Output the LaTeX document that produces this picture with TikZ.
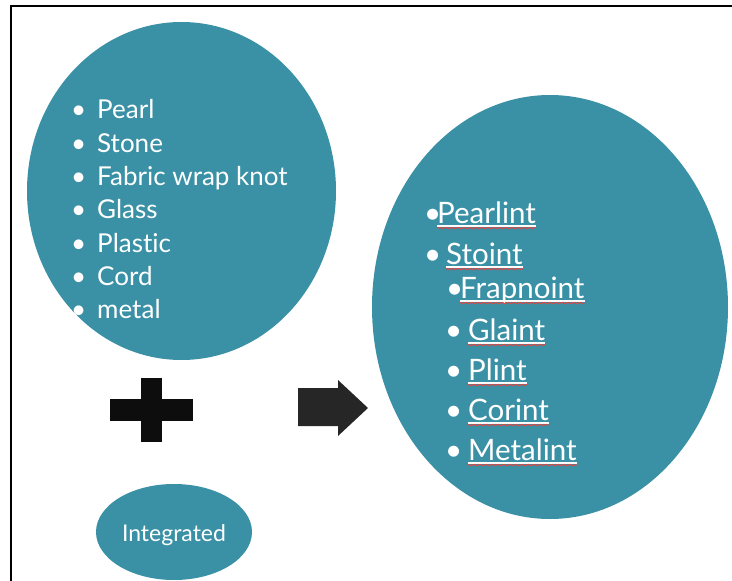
\documentclass[tikz,border=0pt]{standalone}
\usepackage{fontspec}
\setmainfont{Lato}[Ligatures={NoCommon,NoRare}]
\usetikzlibrary{decorations.pathmorphing}
\definecolor{teal1}{HTML}{3A91A6}
\definecolor{plusc}{HTML}{0D0D0D}
\definecolor{arrc}{HTML}{262626}
\definecolor{wavec}{HTML}{E8403A}
\tikzset{
  lefttxt/.style={anchor=base west, inner sep=0pt, text=white, font=\fontsize{26}{30}\selectfont},
  righttxt/.style={anchor=base west, inner sep=0pt, text=white, font=\fontsize{29.5}{33}\selectfont},
  uline/.style={draw=white, line width=1.1pt},
  wavy/.style={draw=wavec, line width=0.7pt, decorate, decoration={snake, amplitude=0.8pt, segment length=3pt}},
}
\newcommand{\ulw}[1]{%
  \draw[uline] ([yshift=-3pt]#1.base west) -- ([yshift=-3pt]#1.base east);
  \draw[wavy] ([yshift=-5pt]#1.base west) -- ([yshift=-5pt]#1.base east);}
\begin{document}
\begin{tikzpicture}[x=1pt,y=-1pt]
\useasboundingbox (0,0) rectangle (732,581);
% frame
\draw[line width=2pt] (11,581) -- (11,6) -- (732,6);
% shapes
\fill[teal1] (181.5,191) ellipse [x radius=154.5, y radius=169];
\fill[teal1] (550,307) ellipse [x radius=178, y radius=212];
\fill[teal1] (174,532) ellipse [x radius=78, y radius=48];
% plus
\fill[plusc] (110,399) rectangle (193,421);
\fill[plusc] (141,378) rectangle (162,442);
% arrow
\fill[arrc] (298,388) -- (338,388) -- (338,380) -- (368,408) -- (338,436) -- (338,426) -- (298,426) -- cycle;
% left list
\foreach \y/\t [count=\i] in {118/Pearl,152/Stone,185/Fabric wrap knot,218/Glass,252/Plastic,285/Cord,318/metal}{
  \node[lefttxt] (lb\i) at (71,\y) {•};
  \node[lefttxt] (lt\i) at (97,\y) {\t};
}
% right list
\node[righttxt] (rb1) at (424,223) {•};
\node[righttxt] (r1) at (437,223) {Pearlint};
\node[righttxt] (rb2) at (424,264) {•};
\node[righttxt] (r2) at (446,264) {Stoint};
\node[righttxt] (rb3) at (446,298) {•};
\node[righttxt] (r3) at (460,298) {Frapnoint};
\node[righttxt] (rb4) at (445,340) {•};
\node[righttxt] (r4) at (468,340) {Glaint};
\node[righttxt] (rb5) at (445,380) {•};
\node[righttxt] (r5) at (468,380) {Plint};
\node[righttxt] (rb6) at (445,420) {•};
\node[righttxt] (r6) at (468,420) {Corint};
\node[righttxt] (rb7) at (445,460) {•};
\node[righttxt] (r7) at (468,460) {Metalint};
\foreach \i in {1,...,7}{\ulw{r\i}}
% integrated
\node[anchor=base, inner sep=0pt, text=white, font=\fontsize{23}{27}\selectfont] (integ) at (174,541) {Integrated};
\end{tikzpicture}
\end{document}
